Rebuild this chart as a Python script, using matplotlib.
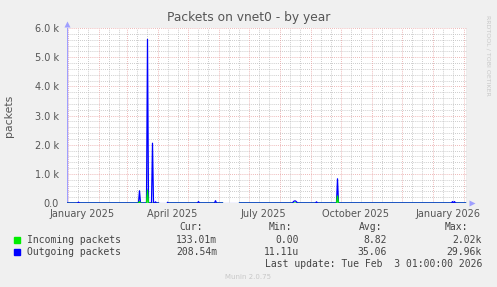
import numpy as np
import pandas as pd
import matplotlib
matplotlib.use('Agg')
import matplotlib.pyplot as plt

# ── data (daily averages) ──────────────────────────────────────────────────
start_date = '2024-12-31'
end_date   = '2026-02-04'

out_dates = ['2025-01-12', '2025-03-14', '2025-03-22', '2025-03-27',
             '2025-03-30', '2025-04-11', '2025-05-12', '2025-05-29',
             '2025-08-15', '2025-08-16', '2025-08-17', '2025-08-18',
             '2025-09-07', '2025-09-28', '2026-01-21', '2026-01-23']
out_vals  = [30, 420, 5610, 2050, 40, 20, 50, 80,
             50, 70, 70, 40, 40, 830, 50, 50]

in_dates = ['2025-03-14', '2025-03-22', '2025-09-28']
in_vals  = [50, 440, 240]

# periods without data
gap_starts = ['2025-04-03', '2025-06-06']
gap_ends   = ['2025-04-10', '2025-06-21']

legend_names = ['Incoming packets', 'Outgoing packets']
cur_vals = ['133.01m', '208.54m']
min_vals = ['0.00', '11.11u']
avg_vals = ['8.82', '35.06']
max_vals = ['2.02k', '29.96k']
last_update = 'Last update: Tue Feb  3 01:00:00 2026'

# ── build daily series ─────────────────────────────────────────────────────
days = pd.date_range(start_date, '2026-02-03', freq='D')
outgoing = pd.Series(0.0, index=days)
incoming = pd.Series(0.0, index=days)
outgoing.loc[pd.to_datetime(out_dates)] = out_vals
incoming.loc[pd.to_datetime(in_dates)] = in_vals
for gs, ge in zip(gap_starts, gap_ends):
    outgoing.loc[gs:ge] = np.nan
    incoming.loc[gs:ge] = np.nan

# green only drawn on top where it is above zero (plus neighbours)
nz = incoming.fillna(0) > 0
near = nz | nz.shift(1, fill_value=False) | nz.shift(-1, fill_value=False)
incoming_top = incoming.where(near)

GREEN = '#00ee00'
BLUE = '#0000ff'
AXIS = '#9f9fff'
MONO = 'DejaVu Sans Mono'
MAJOR = '#e8a0a0'
MINOR = '#bbbbbb'
DOTS = (0, (1, 1.5))

fig = plt.figure(figsize=(4.97, 2.87), dpi=100, facecolor='#f0f0f0')
ax = fig.add_axes([67/497, 1-203/287, 400/497, 175/287])
ax.set_facecolor('white')

ax.plot(incoming.index, incoming.values, color=GREEN, lw=0.9, zorder=3)
ax.plot(outgoing.index, outgoing.values, color=BLUE, lw=0.9, zorder=4)
ax.plot(incoming_top.index, incoming_top.values, color=GREEN, lw=0.9, zorder=5)

x0 = pd.Timestamp(start_date) + pd.Timedelta(hours=12)
x1 = pd.Timestamp(end_date) + pd.Timedelta(hours=12)
ax.set_xlim(x0, x1)
ax.set_ylim(0, 6000)

# grid: red major, grey minor
for v in np.arange(0, 6001, 200):
    major = v % 1000 == 0
    ax.axhline(v, color=MAJOR if major else MINOR, lw=0.6, ls=DOTS, zorder=1)
months = pd.date_range('2025-01-01', '2026-02-01', freq='MS')
for m in months:
    ax.axvline(m, color=MAJOR, lw=0.6, ls=DOTS, zorder=1)
    for d in (10, 20):
        ax.axvline(m + pd.Timedelta(days=d), color=MINOR, lw=0.6,
                   ls=DOTS, zorder=1)

for s in ax.spines.values():
    s.set_visible(False)
ax.axhline(0, color=AXIS, lw=0.9, zorder=2)
ax.axvline(x0, color=AXIS, lw=0.9, zorder=2)
ax.axvline(x1, color='#777777', lw=0.9, zorder=2)
ax.plot([1.012], [0], marker='>', color=AXIS, ms=4, transform=ax.transAxes,
        clip_on=False, mec='none')
ax.plot([0], [1.025], marker='^', color=AXIS, ms=4, transform=ax.transAxes,
        clip_on=False, mec='none')

ax.set_yticks(np.arange(0, 6001, 1000))
ax.set_yticklabels(['0.0'] + [f'{v/1000:.1f} k' for v in range(1000, 6001, 1000)])
label_months = pd.date_range('2025-01-01', '2026-01-01', freq='3MS')
ax.set_xticks(label_months + pd.Timedelta(days=15))
ax.set_xticklabels([m.strftime('%B %Y') for m in label_months])
ax.tick_params(length=0, labelsize=7, colors='#555555', pad=6)
ax.tick_params(axis='x', pad=4.5)

ax.set_ylabel('packets', fontsize=7.8, color='#555555')
ax.yaxis.set_label_coords(-53/400, 0.5)
fig.text(0.5, 1-18/287, 'Packets on vnet0 - by year', ha='center', va='center',
         fontsize=8.8, color='#555555')
fig.text(488/497, 1-15/287, 'RRDTOOL / TOBI OETIKER', rotation=270,
         ha='center', va='top', fontsize=4.5, color='#c8c8c8')

# ── legend table ───────────────────────────────────────────────────────────
def ftext(x, y, s, **kw):
    fig.text(x/497, 1-y/287, s, family=MONO, fontsize=7, color='#444444',
             va='center', **kw)

ftext(203, 227, 'Cur:', ha='right')
ftext(292, 227, 'Min:', ha='right')
ftext(382, 227, 'Avg:', ha='right')
ftext(468, 227, 'Max:', ha='right')
for i, (name, c) in enumerate(zip(legend_names, [GREEN, BLUE])):
    y = 240 + 12*i
    fig.patches.append(plt.Rectangle((14/497, 1-(y+3)/287), 6/497, 6/287,
                                     transform=fig.transFigure, color=c))
    ftext(27, y, name, ha='left')
    ftext(217, y, cur_vals[i], ha='right')
    ftext(299, y, min_vals[i], ha='right')
    ftext(387, y, avg_vals[i], ha='right')
    ftext(482, y, max_vals[i], ha='right')
ftext(482, 264, last_update, ha='right')
fig.text(248/497, 1-277/287, 'Munin 2.0.75', ha='center', va='center',
         fontsize=5, color='#c8c8c8')

plt.savefig('out.png', dpi=100, facecolor=fig.get_facecolor())
